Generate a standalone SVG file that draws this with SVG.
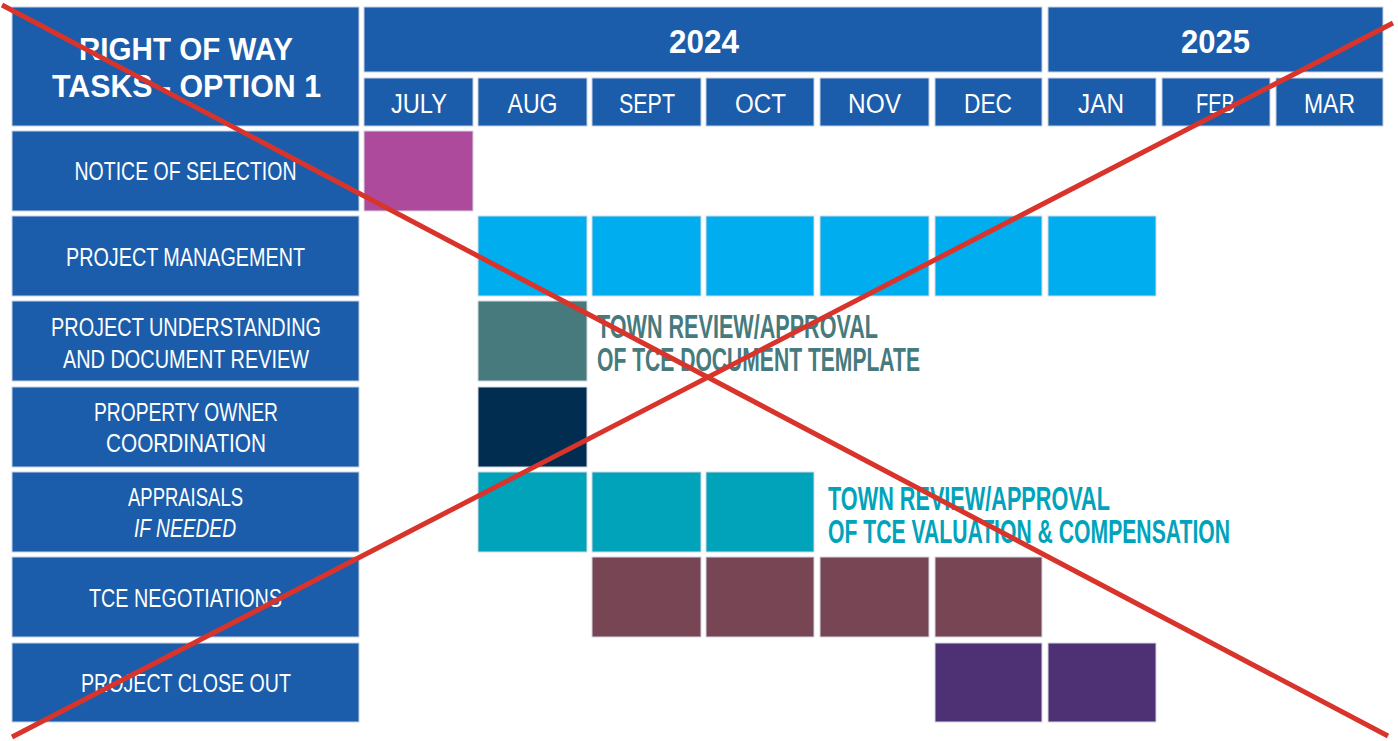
<svg xmlns="http://www.w3.org/2000/svg" width="1398" height="741" viewBox="0 0 1398 741">
<style>
.hdr{fill:#1B5DAA;stroke:#c6d2e6;stroke-width:1}
.t{font-family:"Liberation Sans","DejaVu Sans",sans-serif;fill:#ffffff;text-anchor:middle}
.lbl{font-size:25px}
.mon{font-size:27px}
.yr{font-size:33px;font-weight:bold}
.ttl{font-size:32px;font-weight:bold}
.ann{font-family:"Liberation Sans","DejaVu Sans",sans-serif;font-size:34px;font-weight:bold}
.bar{stroke:#d4d8e4;stroke-width:1}
.x{stroke:#D9342B;stroke-width:5;stroke-linecap:butt}
</style>
<rect width="1398" height="741" fill="#ffffff"/>

<g id="header-title">
<rect class="hdr" x="12" y="7" width="347" height="119"/>
<text class="t ttl" x="186" y="60" textLength="214" lengthAdjust="spacingAndGlyphs">RIGHT OF WAY</text>
<text class="t ttl" x="186.5" y="97" textLength="269" lengthAdjust="spacingAndGlyphs">TASKS - OPTION 1</text>
</g>
<g id="year-2024">
<rect class="hdr" x="364" y="7" width="678" height="65"/>
<text class="t yr" x="704" y="53" textLength="70" lengthAdjust="spacingAndGlyphs">2024</text>
</g>
<g id="year-2025">
<rect class="hdr" x="1048" y="7" width="335" height="65"/>
<text class="t yr" x="1215.5" y="53" textLength="69" lengthAdjust="spacingAndGlyphs">2025</text>
</g>

<g id="month-jul"><rect class="hdr" x="364" y="78" width="109" height="48"/><text class="t mon" x="419" y="113" textLength="56" lengthAdjust="spacingAndGlyphs">JULY</text></g>
<g id="month-aug"><rect class="hdr" x="478" y="78" width="109" height="48"/><text class="t mon" x="532.5" y="113" textLength="50" lengthAdjust="spacingAndGlyphs">AUG</text></g>
<g id="month-sep"><rect class="hdr" x="592" y="78" width="109" height="48"/><text class="t mon" x="647" y="113" textLength="56" lengthAdjust="spacingAndGlyphs">SEPT</text></g>
<g id="month-oct"><rect class="hdr" x="706" y="78" width="108" height="48"/><text class="t mon" x="760.5" y="113" textLength="51" lengthAdjust="spacingAndGlyphs">OCT</text></g>
<g id="month-nov"><rect class="hdr" x="820" y="78" width="109" height="48"/><text class="t mon" x="874.5" y="113" textLength="53" lengthAdjust="spacingAndGlyphs">NOV</text></g>
<g id="month-dec"><rect class="hdr" x="935" y="78" width="107" height="48"/><text class="t mon" x="988" y="113" textLength="48" lengthAdjust="spacingAndGlyphs">DEC</text></g>
<g id="month-jan"><rect class="hdr" x="1048" y="78" width="108" height="48"/><text class="t mon" x="1101" y="113" textLength="46" lengthAdjust="spacingAndGlyphs">JAN</text></g>
<g id="month-feb"><rect class="hdr" x="1162" y="78" width="108" height="48"/><text class="t mon" x="1215.5" y="113" textLength="39" lengthAdjust="spacingAndGlyphs">FEB</text></g>
<g id="month-mar"><rect class="hdr" x="1276" y="78" width="107" height="48"/><text class="t mon" x="1329.5" y="113" textLength="51" lengthAdjust="spacingAndGlyphs">MAR</text></g>

<g id="task-notice">
<rect class="hdr" x="12" y="131" width="347" height="80"/>
<text class="t lbl" x="185.5" y="180" textLength="222" lengthAdjust="spacingAndGlyphs">NOTICE OF SELECTION</text>
<rect class="bar" x="364" y="131" width="109" height="80" fill="#AD4A9C"/>
</g>
<g id="task-pm">
<rect class="hdr" x="12" y="216" width="347" height="80"/>
<text class="t lbl" x="185.5" y="266" textLength="239" lengthAdjust="spacingAndGlyphs">PROJECT MANAGEMENT</text>
<g fill="#00AEEF">
<rect class="bar" x="478" y="216" width="109" height="80"/>
<rect class="bar" x="592" y="216" width="109" height="80"/>
<rect class="bar" x="706" y="216" width="108" height="80"/>
<rect class="bar" x="820" y="216" width="109" height="80"/>
<rect class="bar" x="935" y="216" width="107" height="80"/>
<rect class="bar" x="1048" y="216" width="108" height="80"/>
</g>
</g>
<g id="task-understanding">
<rect class="hdr" x="12" y="301" width="347" height="80"/>
<text class="t lbl" x="186" y="336" textLength="270" lengthAdjust="spacingAndGlyphs">PROJECT UNDERSTANDING</text>
<text class="t lbl" x="186" y="368" textLength="246" lengthAdjust="spacingAndGlyphs">AND DOCUMENT REVIEW</text>
<rect class="bar" x="478" y="301" width="109" height="80" fill="#467A7D"/>
<text class="ann" x="597" y="338" fill="#467A7D" textLength="281" lengthAdjust="spacingAndGlyphs">TOWN REVIEW/APPROVAL</text>
<text class="ann" x="597" y="371" fill="#467A7D" textLength="323" lengthAdjust="spacingAndGlyphs">OF TCE DOCUMENT TEMPLATE</text>
</g>
<g id="task-owner">
<rect class="hdr" x="12" y="387" width="347" height="80"/>
<text class="t lbl" x="186" y="421" textLength="184" lengthAdjust="spacingAndGlyphs">PROPERTY OWNER</text>
<text class="t lbl" x="186" y="452" textLength="160" lengthAdjust="spacingAndGlyphs">COORDINATION</text>
<rect class="bar" x="478" y="387" width="109" height="80" fill="#002D50"/>
</g>
<g id="task-appraisals">
<rect class="hdr" x="12" y="472" width="347" height="80"/>
<text class="t lbl" x="185.5" y="506" textLength="115" lengthAdjust="spacingAndGlyphs">APPRAISALS</text>
<text class="t lbl" x="185" y="537" font-style="italic" textLength="102" lengthAdjust="spacingAndGlyphs">IF NEEDED</text>
<g fill="#00A3BA">
<rect class="bar" x="478" y="472" width="109" height="80"/>
<rect class="bar" x="592" y="472" width="109" height="80"/>
<rect class="bar" x="706" y="472" width="108" height="80"/>
</g>
<text class="ann" x="828" y="510" fill="#00A3BA" textLength="282" lengthAdjust="spacingAndGlyphs">TOWN REVIEW/APPROVAL</text>
<text class="ann" x="828" y="543" fill="#00A3BA" textLength="402" lengthAdjust="spacingAndGlyphs">OF TCE VALUATION &amp; COMPENSATION</text>
</g>
<g id="task-negotiations">
<rect class="hdr" x="12" y="557" width="347" height="80"/>
<text class="t lbl" x="185.5" y="607" textLength="193" lengthAdjust="spacingAndGlyphs">TCE NEGOTIATIONS</text>
<g fill="#784555">
<rect class="bar" x="592" y="557" width="109" height="80"/>
<rect class="bar" x="706" y="557" width="108" height="80"/>
<rect class="bar" x="820" y="557" width="109" height="80"/>
<rect class="bar" x="935" y="557" width="107" height="80"/>
</g>
</g>
<g id="task-closeout">
<rect class="hdr" x="12" y="643" width="347" height="79"/>
<text class="t lbl" x="186" y="692" textLength="210" lengthAdjust="spacingAndGlyphs">PROJECT CLOSE OUT</text>
<g fill="#4D3174">
<rect class="bar" x="935" y="643" width="107" height="79"/>
<rect class="bar" x="1048" y="643" width="108" height="79"/>
</g>
</g>

<g id="connectors">
<line class="x" x1="2" y1="5" x2="1388" y2="736"/>
<line class="x" x1="12" y1="737" x2="1393" y2="23"/>
</g>
</svg>
